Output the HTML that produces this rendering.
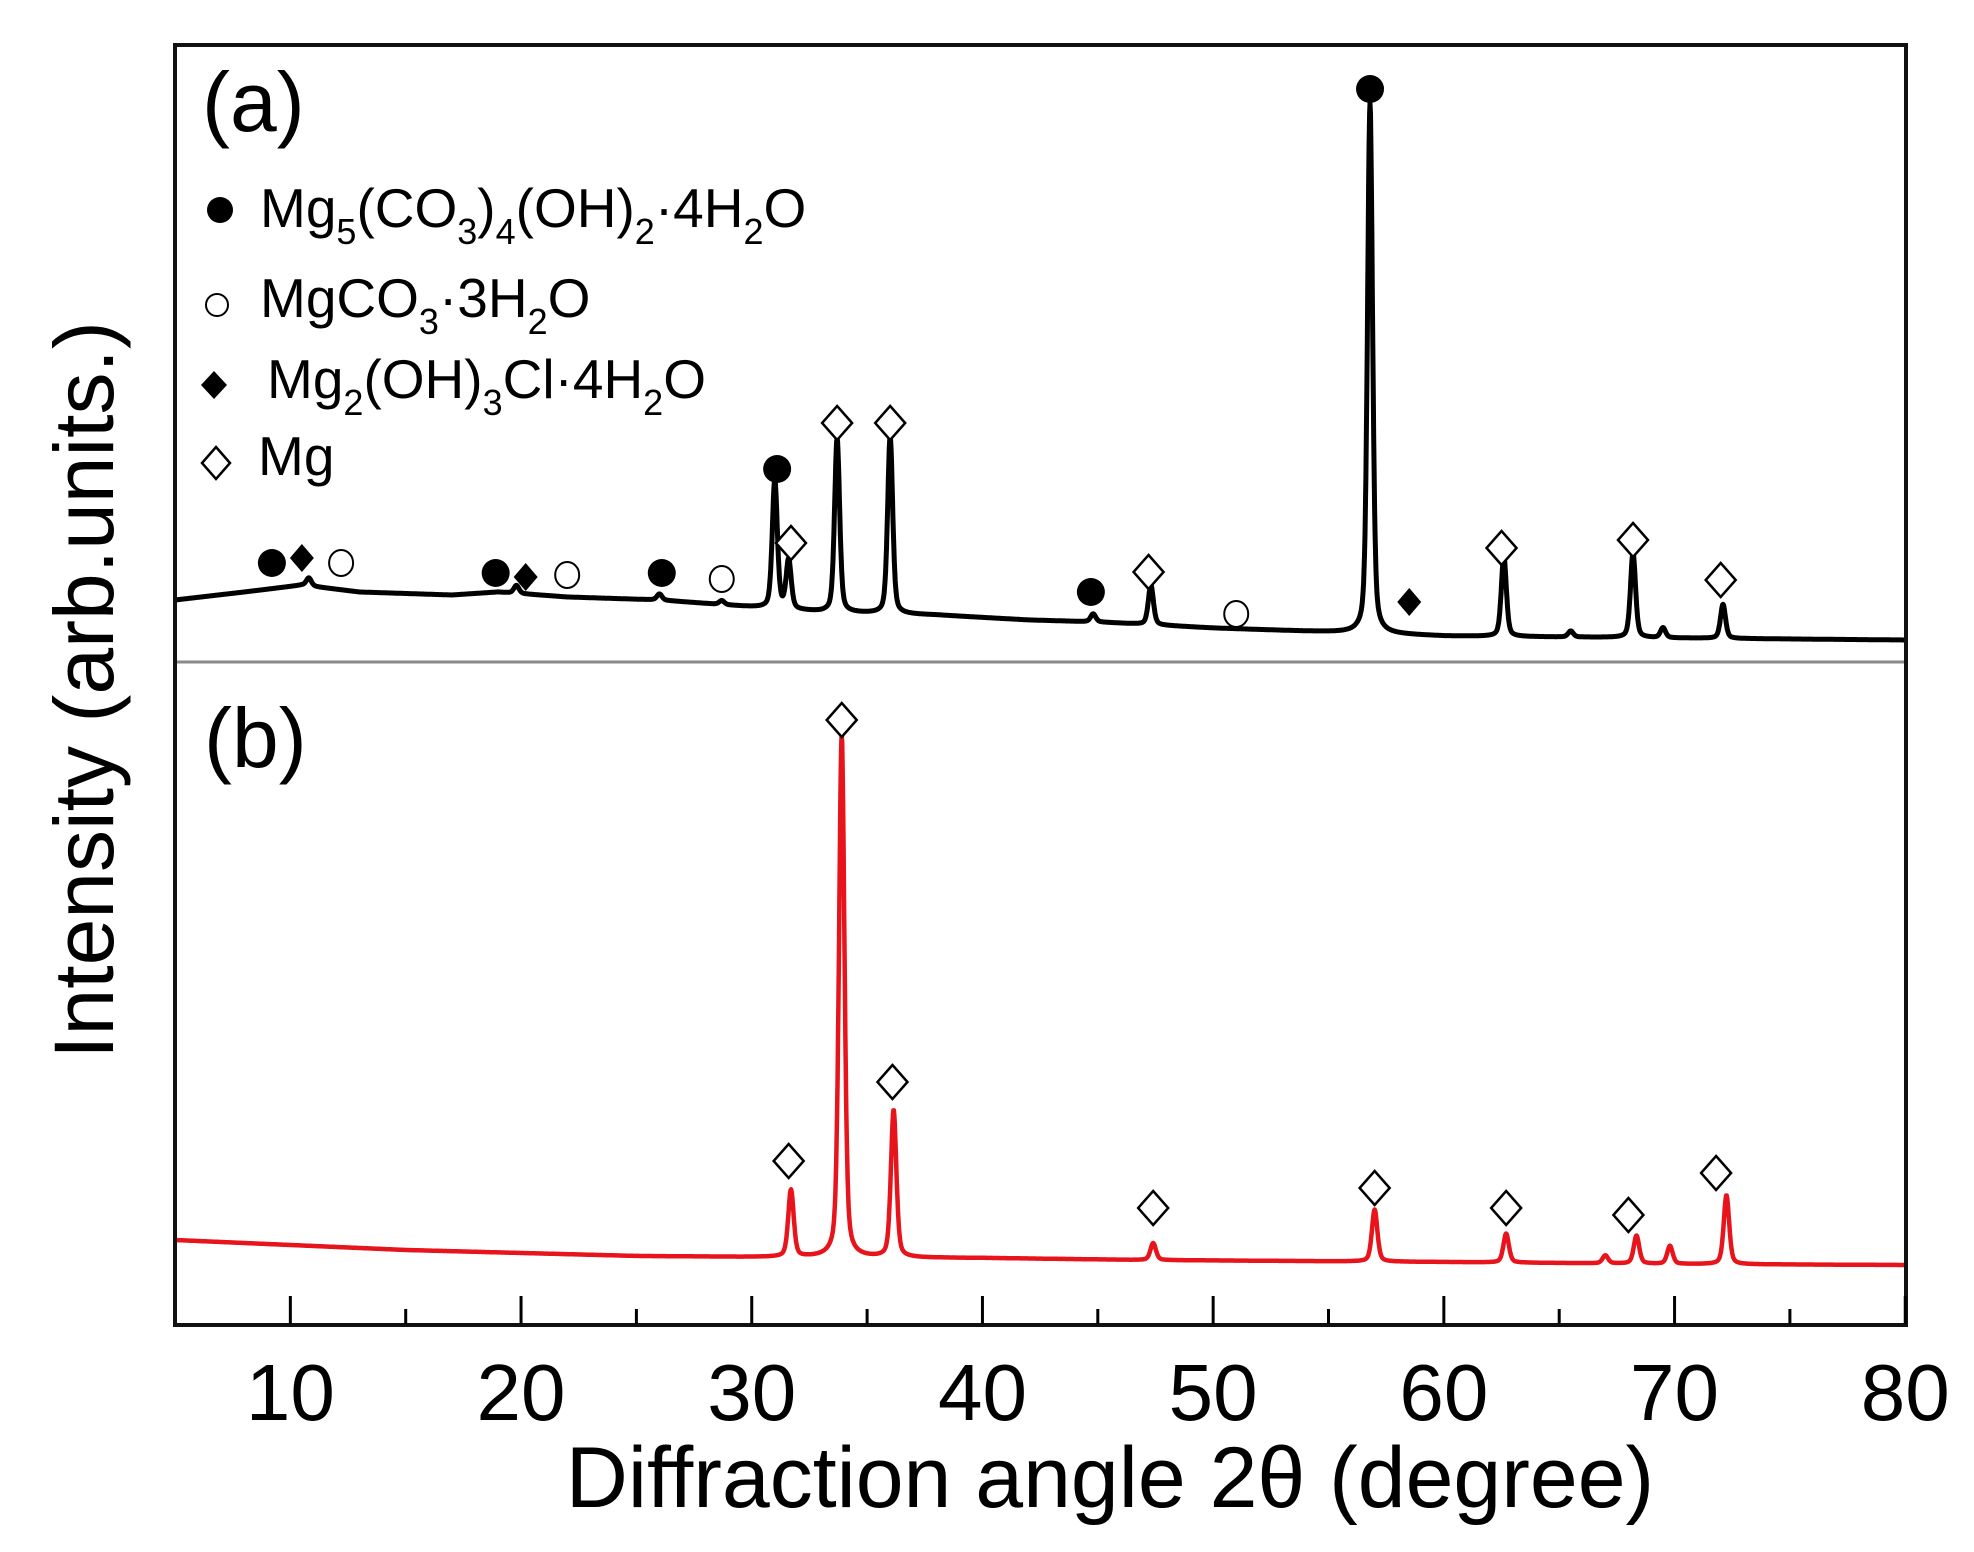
<!DOCTYPE html>
<html><head><meta charset="utf-8"><style>
html,body{margin:0;padding:0;background:#fff;}
svg{display:block;}
text{font-family:"Liberation Sans",Arial,sans-serif;fill:#000;}
</style></head><body>
<svg id="chart" width="1974" height="1552" viewBox="0 0 1974 1552" xmlns="http://www.w3.org/2000/svg">
<rect x="0" y="0" width="1974" height="1552" fill="#fff"/>
<g id="plot"></g>
<line x1="176" y1="662" x2="1905" y2="662" stroke="#8a8a8a" stroke-width="3"/>
<rect x="175" y="45" width="1731" height="1280" fill="none" stroke="#111" stroke-width="4"/>
<g id="ticks"></g>
<g id="ticklabels"></g>
<text x="1110" y="1507" font-size="86" text-anchor="middle">Diffraction angle 2θ (degree)</text>
<text transform="translate(113,690) rotate(-90)" font-size="84" text-anchor="middle">Intensity (arb.units.)</text>
<text x="202" y="131" font-size="84">(a)</text>
<text x="204" y="767" font-size="84">(b)</text>
<g>
  <g>
    <ellipse cx="220" cy="210" rx="13" ry="13" fill="#000"/>
    <text x="260" y="227" font-size="55">Mg<tspan font-size="36" dy="17">5</tspan><tspan dy="-17">(CO</tspan><tspan font-size="36" dy="17">3</tspan><tspan dy="-17">)</tspan><tspan font-size="36" dy="17">4</tspan><tspan dy="-17">(OH)</tspan><tspan font-size="36" dy="17">2</tspan><tspan dy="-17">·4H</tspan><tspan font-size="36" dy="17">2</tspan><tspan dy="-17">O</tspan></text>
  </g>
  <g>
    <ellipse cx="217" cy="305" rx="11" ry="11" fill="none" stroke="#000" stroke-width="2"/>
    <text x="260" y="317" font-size="55">MgCO<tspan font-size="36" dy="17">3</tspan><tspan dy="-17">·3H</tspan><tspan font-size="36" dy="17">2</tspan><tspan dy="-17">O</tspan></text>
  </g>
  <g>
    <polygon points="214,371 227,385 214,399 201,385" fill="#000"/>
    <text x="267" y="398" font-size="55">Mg<tspan font-size="36" dy="17">2</tspan><tspan dy="-17">(OH)</tspan><tspan font-size="36" dy="17">3</tspan><tspan dy="-17">Cl·4H</tspan><tspan font-size="36" dy="17">2</tspan><tspan dy="-17">O</tspan></text>
  </g>
  <g>
    <polygon points="216,447 230,463 216,479 202,463" fill="#fff" stroke="#000" stroke-width="2.5"/>
    <text x="258" y="475" font-size="55">Mg</text>
  </g>
</g>
</svg>
<script>
// x axis
const xTicksMajor = [10, 20, 30, 40, 50, 60, 70, 80];
const xTicksMinor = [15, 25, 35, 45, 55, 65, 75];
const xTickLabels = ["10", "20", "30", "40", "50", "60", "70", "80"];
// panel (a) background: angle / intensity (arb.)
const bgAngleA = [5, 8, 10.5, 13, 17, 19, 22, 26, 30, 33, 38, 42, 45, 50, 55, 60, 65, 70, 80];
const bgValueA = [50, 58, 65, 58, 55, 58, 53, 50, 43, 38, 35, 30, 28, 22, 18, 14, 13, 12, 10];
// panel (a) peaks
const peakPosA = [10.8, 19.8, 26.0, 28.7, 31.0, 31.6, 33.7, 36.0, 44.8, 47.3, 56.8, 62.6, 65.5, 68.2, 69.5, 72.1];
const peakHA   = [8, 8, 6, 4, 129, 49, 174, 177, 8, 40, 530, 80, 6, 85, 10, 34];
// panel (b) background
const bgAngleB = [5, 10, 15, 20, 25, 30, 40, 47, 60, 70, 80];
const bgValueB = [40, 35, 30, 27, 24, 23, 22, 20, 18, 16, 15];
// panel (b) peaks
const peakPosB = [31.7, 33.9, 36.15, 47.4, 57.0, 62.7, 67.0, 68.35, 69.8, 72.25];
const peakHB   = [67, 523, 147, 17, 52, 29, 8, 28, 18, 69];
// markers: type, angle, intensity
const markTypeA = ["dot","fdia","circ","dot","fdia","circ","dot","circ","dot","dia","dia","dia","dot","dia","circ","dot","fdia","dia","dia","dia"];
const markPosA  = [9.2, 10.5, 12.2, 18.9, 20.2, 22.0, 26.1, 28.7, 31.1, 31.7, 33.7, 36.0, 44.7, 47.2, 51.0, 56.8, 58.5, 62.5, 68.2, 72.0];
const markValA  = [87, 92, 87, 77, 73, 75, 77, 71, 181, 107, 227, 227, 58, 78, 36, 561, 48, 102, 110, 70];
const markPosB  = [31.6, 33.9, 36.1, 47.4, 57.0, 62.7, 68.0, 71.8];
const markValB  = [119, 560, 198, 72, 92, 72, 65, 107];

const NS = "http://www.w3.org/2000/svg";
const xS = a => 175 + (a - 5) * 23.07;
const yA = v => 650 - v;
const yB = v => 1280 - v;
const plot = document.getElementById('plot');
function mk(tag, attrs, parent) {
  const e = document.createElementNS(NS, tag);
  for (const k in attrs) e.setAttribute(k, attrs[k]);
  parent.appendChild(e);
  return e;
}
function interp(xs, ys, x) {
  if (x <= xs[0]) return ys[0];
  for (let i = 1; i < xs.length; i++) if (x <= xs[i]) {
    const t = (x - xs[i-1]) / (xs[i] - xs[i-1]);
    return ys[i-1] + t * (ys[i] - ys[i-1]);
  }
  return ys[ys.length - 1];
}
function curve(bgX, bgY, pos, h, w) {
  const pts = [];
  for (let a = 5; a <= 80.0001; a += 0.02) {
    let v = interp(bgX, bgY, a);
    for (let i = 0; i < pos.length; i++) {
      const d = (a - pos[i]) / w;
      v += h[i] * (0.6 * Math.exp(-d * d * 0.693) + 0.4 / (1 + d * d));
    }
    pts.push([a, v]);
  }
  return pts;
}
const ca = curve(bgAngleA, bgValueA, peakPosA, peakHA, 0.13);
const la = mk('path', {d: ca.map((p, i) => (i ? 'L' : 'M') + xS(p[0]).toFixed(1) + ',' + yA(p[1]).toFixed(1)).join(''), fill: 'none', stroke: '#000', 'stroke-width': 5, 'stroke-linejoin': 'round'}, plot);


const cb = curve(bgAngleB, bgValueB, peakPosB, peakHB, 0.14);
const lb = mk('path', {d: cb.map((p, i) => (i ? 'L' : 'M') + xS(p[0]).toFixed(1) + ',' + yB(p[1]).toFixed(1)).join(''), fill: 'none', stroke: '#e8141b', 'stroke-width': 4.5, 'stroke-linejoin': 'round'}, plot);



function marker(type, cx, cy) {
  let e;
  if (type === 'dot') e = mk('ellipse', {cx: cx, cy: cy, rx: 14, ry: 14, fill: '#000'}, plot);
  else if (type === 'circ') e = mk('ellipse', {cx: cx, cy: cy, rx: 12, ry: 13, fill: '#fff', stroke: '#000', 'stroke-width': 2}, plot);
  else if (type === 'fdia') e = mk('polygon', {points: `${cx},${cy-14} ${cx+12},${cy} ${cx},${cy+14} ${cx-12},${cy}`, fill: '#000'}, plot);
  else e = mk('polygon', {points: `${cx},${cy-17} ${cx+15},${cy} ${cx},${cy+17} ${cx-15},${cy}`, fill: '#fff', stroke: '#000', 'stroke-width': 2.5}, plot);
  return e;
}
for (let i = 0; i < markPosA.length; i++) {
  const m = marker(markTypeA[i], xS(markPosA[i]), yA(markValA[i]));
  
  
}
for (let i = 0; i < markPosB.length; i++) {
  const m = marker('dia', xS(markPosB[i]), yB(markValB[i]));
  
  
}
const tg = document.getElementById('ticks');
const tl = document.getElementById('ticklabels');
xTicksMajor.forEach((t, i) => {
  const l = mk('line', {x1: xS(t), x2: xS(t), y1: 1324, y2: 1296, stroke: '#000', 'stroke-width': 3}, tg);
  
  
  const tx = mk('text', {x: xS(t), y: 1420, 'font-size': 80, 'text-anchor': 'middle'}, tl);
  tx.textContent = xTickLabels[i];
  
  
});
xTicksMinor.forEach(t => {
  const l = mk('line', {x1: xS(t), x2: xS(t), y1: 1324, y2: 1309, stroke: '#000', 'stroke-width': 3}, tg);
  
  
});
</script>
</body></html>
